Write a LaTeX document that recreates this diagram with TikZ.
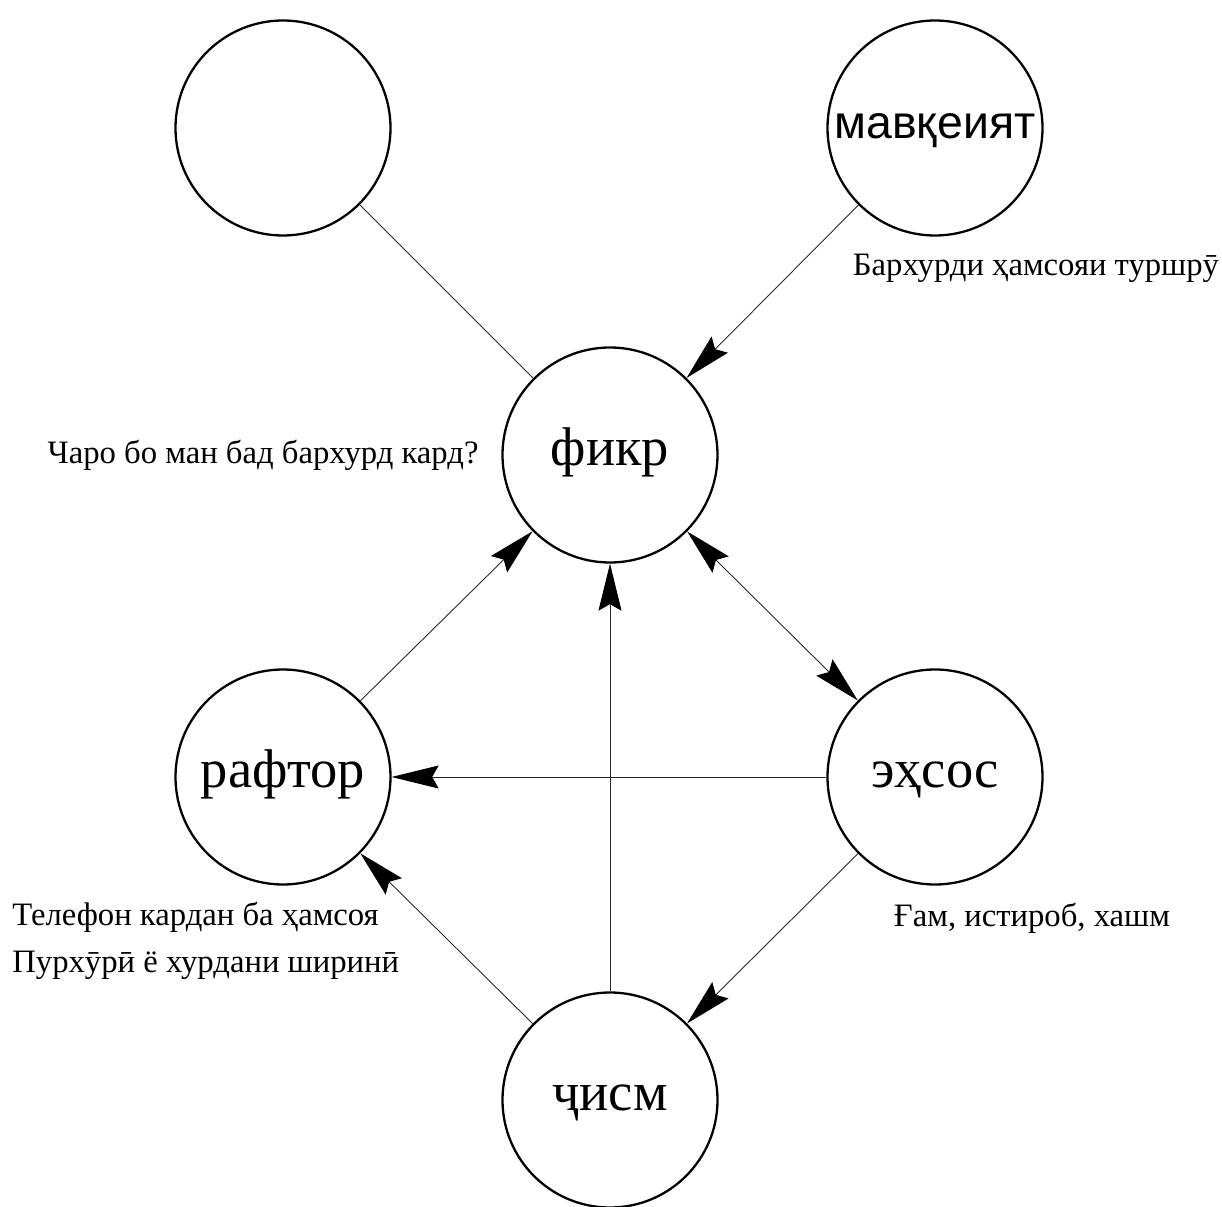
\documentclass[tikz,border=0pt]{standalone}
\usepackage{fontspec}
\setmainfont{Liberation Serif}
\newfontfamily\labelsans{Liberation Sans}
\usetikzlibrary{arrows.meta}
\begin{document}
\begin{tikzpicture}[every path/.style={>={Stealth[length=0.94cm,width=0.46cm,inset=0.13cm,color=black]}},
  state/.style={draw,circle,line width=1.3pt,minimum size=4.3cm,inner sep=0pt,text height=0.62cm,text depth=0.2cm,font=\fontsize{31}{36}\selectfont},
  note/.style={font=\fontsize{18.6}{27}\selectfont,inner sep=0pt},
  link/.style={line width=0.5pt,black!85}]
\useasboundingbox (0,0) rectangle (24.44,-24.14);
\node[state] (blank) at (5.66,-2.56) {};
\node[state,font=\labelsans\fontsize{26.4}{30}\selectfont] (mavqeiyat) at (18.7,-2.56) {мавқеият};
\node[state] (fikr) at (12.2,-9.1) {фикр};
\node[state] (raftor) at (5.66,-15.54) {рафтор};
\node[state] (ehsos) at (18.7,-15.54) {эҳсос};
\node[state] (jism) at (12.2,-22.0) {ҷисм};

\node[note] (neighbour) at (20.72,-5.36) {Бархурди ҳамсояи туршрӯ};
\node[note] (why) at (5.26,-9.1) {Чаро бо ман бад бархурд кард?};
\node[note,align=left,anchor=west] (phone) at (0.24,-18.82) {Телефон кардан ба ҳамсоя\\Пурхӯрӣ ё хурдани ширинӣ};
\node[note] (grief) at (20.64,-18.36) {Ғам, истироб, хашм};

\draw[link] (blank) -- (fikr);
\draw[link,->] (mavqeiyat) -- (fikr);
\draw[link,->] (raftor) -- (fikr);
\draw[link,->] (jism) -- (fikr);
\draw[link,<->] (fikr) -- (ehsos);
\draw[link,->] (ehsos) -- (raftor);
\draw[link,->] (ehsos) -- (jism);
\draw[link,->] (jism) -- (raftor);
\end{tikzpicture}
\end{document}
